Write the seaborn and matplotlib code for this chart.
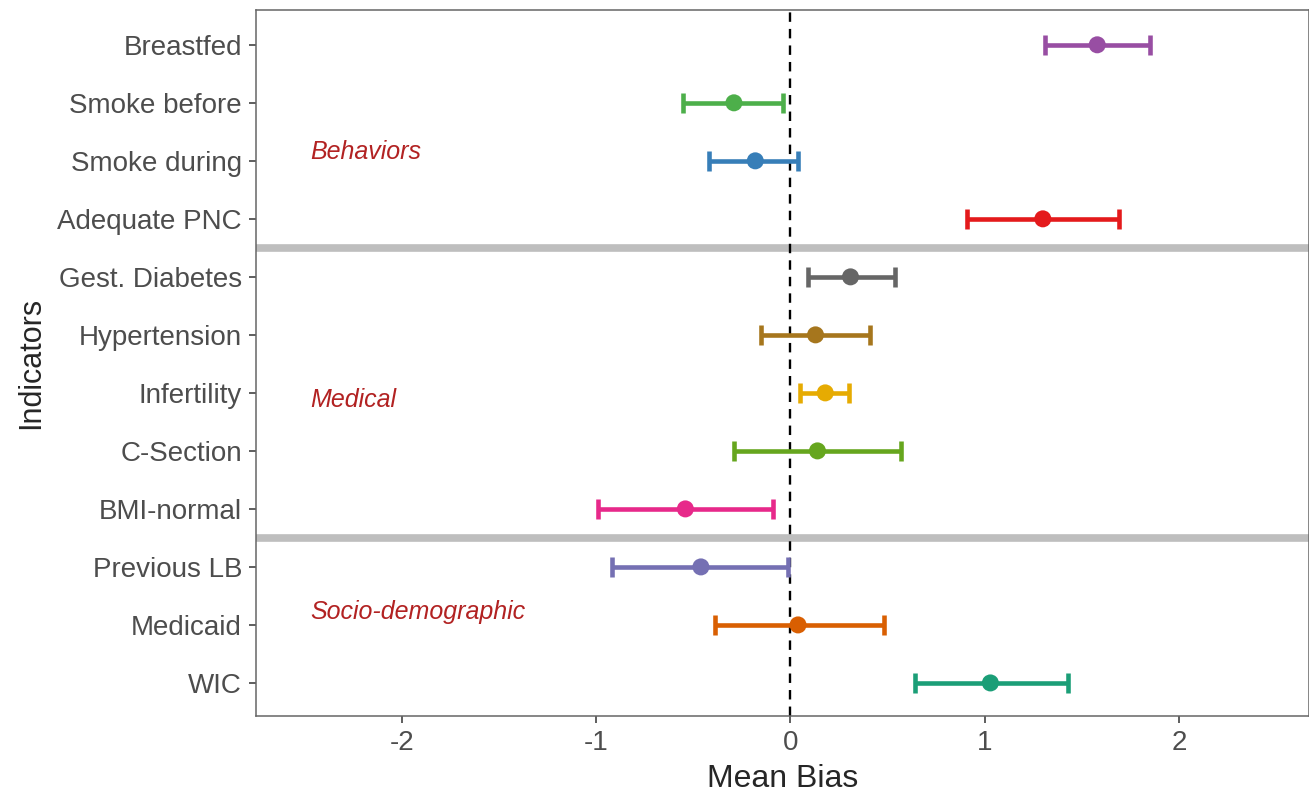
import numpy as np
import pandas as pd
import matplotlib
matplotlib.use("Agg")
import matplotlib.pyplot as plt
import seaborn as sns

indicators = ["Breastfed", "Smoke before", "Smoke during", "Adequate PNC",
              "Gest. Diabetes", "Hypertension", "Infertility", "C-Section", "BMI-normal",
              "Previous LB", "Medicaid", "WIC"]
mean_bias = [1.58, -0.29, -0.18, 1.30, 0.31, 0.13, 0.18, 0.14, -0.54, -0.46, 0.04, 1.03]
lower = [1.31, -0.55, -0.42, 0.91, 0.09, -0.15, 0.05, -0.29, -0.99, -0.92, -0.39, 0.64]
upper = [1.85, -0.04, 0.04, 1.69, 0.54, 0.41, 0.30, 0.57, -0.09, -0.01, 0.48, 1.43]
colors = ["#984EA3", "#4DAF4A", "#377EB8", "#E41A1C",
          "#666666", "#A6761D", "#E6AB02", "#66A61E", "#E7298A",
          "#7570B3", "#D95F02", "#1B9E77"]
groups = ["Behaviors", "Medical", "Socio-demographic"]
group_label_pos = [1.84, 6.12, 9.78]
separators = [3.5, 8.5]

df = pd.DataFrame({"indicator": indicators, "mean": mean_bias,
                   "lo": lower, "hi": upper})
df["pos"] = np.arange(len(df))

sns.set_style("white")
plt.rcParams["font.family"] = ["Liberation Sans", "DejaVu Sans"]
plt.rcParams["axes.unicode_minus"] = False

fig = plt.figure(figsize=(13.09, 7.93), dpi=100)
ax = fig.add_axes([256 / 1309, 1 - 716 / 793, 1 - 256 / 1309, 706 / 793])

for y in separators:
    ax.axhline(y, color="#BEBEBE", lw=5.5, zorder=1)
ax.axvline(0, color="black", ls=(0, (4, 3)), lw=1.7, zorder=2)

for i, row in df.iterrows():
    ax.errorbar(row["mean"], row["pos"],
                xerr=[[row["mean"] - row["lo"]], [row["hi"] - row["mean"]]],
                fmt="none", ecolor=colors[i], elinewidth=3.3, capsize=7,
                capthick=3.3, zorder=3)

sns.scatterplot(data=df, x="mean", y="pos", hue="indicator", palette=colors,
                s=150, edgecolor="none", legend=False, zorder=4, ax=ax)

for g, y in zip(groups, group_label_pos):
    ax.text(-2.47, y, g, color="#B22222", style="italic", fontsize=18,
            ha="left", va="center")

ax.set_xlim(-2.75, 2.67)
ax.set_ylim(len(df) - 1 + 0.57, -0.6)
ax.set_xticks([-2, -1, 0, 1, 2])
ax.set_yticks(df["pos"])
ax.set_yticklabels(df["indicator"])
ax.tick_params(axis="both", labelsize=20, labelcolor="#4D4D4D", color="#333333",
               length=5, width=1.1, left=True, bottom=True, pad=5)
ax.set_xlabel("Mean Bias", fontsize=23, labelpad=6)
ax.set_ylabel("Indicators", fontsize=22, labelpad=8)
for sp in ax.spines.values():
    sp.set_color("#666666")
    sp.set_linewidth(1.1)

fig.savefig("out.png", dpi=100)
